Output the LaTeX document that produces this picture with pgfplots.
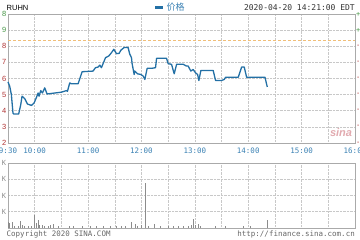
\documentclass[border=0pt]{standalone}
\usepackage{pgfplots}
\pgfplotsset{compat=1.18}
\usepackage{fontspec}
\setmainfont{Liberation Sans}
\newfontfamily\mono{DejaVu Sans Mono}
\newfontfamily\cjk{Noto Sans CJK SC}
\definecolor{lineblue}{RGB}{35,112,165}
\definecolor{tblue}{RGB}{60,130,180}
\definecolor{gr}{RGB}{70,150,70}
\definecolor{rd}{RGB}{175,50,50}
\definecolor{gridc}{RGB}{200,200,200}
\definecolor{framec}{RGB}{170,170,170}
\definecolor{prevc}{RGB}{240,190,120}
\definecolor{volc}{RGB}{140,140,140}
\definecolor{sinac}{RGB}{225,170,175}
\begin{document}
\begin{tikzpicture}[x=1pt,y=1pt]
\useasboundingbox (0,0) rectangle (360,240);
% price panel
\begin{axis}[
  at={(8pt,97pt)}, anchor=south west,
  scale only axis, width=347pt, height=129pt,
  xmin=0, xmax=390, ymin=0, ymax=8,
  xtick={0,30,...,390},
  xticklabels={9:30,10:00,,11:00,,12:00,,13:00,,14:00,,15:00,,16:00},
  xticklabel style={font=\mono\fontsize{7.5}{8}\selectfont, text=tblue},
  ytick={0,...,8},
  yticklabels={\textcolor{rd}{2},\textcolor{rd}{3},\textcolor{rd}{4},\textcolor{rd}{5},\textcolor{rd}{6},\textcolor{rd}{7},\textcolor{rd}{8},\textcolor{gr}{9},\textcolor{gr}{8}},
  yticklabel style={font=\fontsize{7.5}{8}\selectfont},
  major tick length=0pt,
  x tick label style={yshift=-1.5pt},
  y tick label style={xshift=1.8pt},
  grid=major,
  grid style={densely dotted, gridc, line width=0.5pt},
  axis line style={framec, line width=0.5pt},
  clip=false,
]
\addplot[prevc, densely dashed, line width=0.9pt, forget plot] coordinates {(0,6.375) (390,6.375)};
\addplot[lineblue, line width=1.3pt, line join=round] coordinates {
(0,3.79)(1.9,3.52)(3.8,3.0)(5.6,1.85)(6.5,1.8)(12,1.8)(14.3,2.37)(15.8,2.9)(18.8,2.75)
(21.8,2.42)(26.3,2.33)(29.3,2.48)(32,2.83)(33.8,3.1)(34.9,2.9)(36.8,3.25)(38.7,3.1)
(41.3,3.42)(43.9,3.04)(52.5,3.1)(60,3.15)(65.7,3.25)(66.8,3.2)(69.4,3.73)(71.3,3.67)
(78.8,3.67)(83.3,4.42)(95.6,4.46)(98.3,4.67)(101.3,4.71)(103.2,4.83)(105,4.67)
(109.6,5.29)(113.3,5.4)(116.3,5.6)(118.9,5.81)(122,5.54)(124.9,5.56)(126.8,5.75)
(130.5,5.92)(135,5.92)(136.9,5.5)(138.8,5.29)(139.5,4.92)(141.8,4.25)(142.5,4.46)
(145.6,4.29)(149.3,4.25)(151.9,4.15)(153.8,3.94)(156.4,4.63)(161.3,4.63)(165.8,4.67)
(167,5.25)(178.2,5.25)(180,4.92)(183.8,4.88)(186.8,4.29)(189.5,4.88)(196.9,4.88)
(200.7,4.77)(202.5,4.77)(205.5,4.46)(208.1,4.56)(210.8,4.35)(213.1,4.25)(214.5,3.875)
(216.8,4.5)(230.6,4.5)(233.3,3.875)(240,3.875)(243,3.94)(244.6,4.08)(258.8,4.08)
(262.6,4.71)(265.5,4.71)(268.2,4.08)(288.8,4.08)(291.4,3.48)};
\pgfplotsinvokeforeach{0,...,6}{\node[anchor=west, text=rd, font=\mono\fontsize{7}{8}\selectfont, inner sep=0pt, xshift=1pt] at (axis cs:390,#1) {-};}
\pgfplotsinvokeforeach{7,8}{\node[anchor=west, text=gr, font=\mono\fontsize{7}{8}\selectfont, inner sep=0pt, xshift=1pt] at (axis cs:390,#1) {+};}
\node[anchor=south east, inner sep=1pt, font=\bfseries\itshape\fontsize{11}{11}\selectfont, text=sinac] at (axis cs:388,0.3) {sina};
\end{axis}
% volume panel
\begin{axis}[
  at={(8pt,12pt)}, anchor=south west,
  scale only axis, width=347pt, height=65pt,
  xmin=0, xmax=390, ymin=0, ymax=4,
  xtick={0,30,...,390}, xticklabels={},
  ytick={1,2,3,4}, yticklabels={K,K,K,K},
  yticklabel style={font=\mono\fontsize{7}{8}\selectfont, text=volc, xshift=1.5pt},
  major tick length=0pt,
  grid=major,
  grid style={densely dotted, gridc, line width=0.5pt},
  axis line style={framec, line width=0.5pt},
]
\addplot[ycomb, volc, line width=0.5pt] coordinates {
(0.5,0.35)(1.1,0.3)(4.5,0.35)(7.5,0.15)(11.3,0.1)(13.9,0.45)(16.2,0.2)(18.8,0.15)
(22.5,0.1)(26.3,0.15)(29.7,0.8)(31.9,0.3)(33.8,0.5)(35.6,0.2)(38.7,0.2)(41.3,0.15)
(45,0.1)(47.7,0.2)(50.6,0.25)(56.3,0.1)(69.4,0.1)(73.1,0.1)(83.7,0.15)(91.9,0.1)
(99.4,0.1)(106.9,0.1)(114.4,0.1)(121.9,0.15)(127.5,0.15)(131.3,0.1)(138.8,0.35)
(142.5,0.25)(145.1,0.15)(150,0.2)(154.1,2.76)(157.5,0.15)(164.3,0.25)(170.6,0.1)
(180,0.1)(185.6,0.1)(191.3,0.1)(196.9,0.1)(202.5,0.15)(205.5,0.2)(208.1,0.57)
(210.8,0.2)(213.8,0.25)(215.6,0.15)(232.5,0.1)(243.8,0.1)(264.4,0.1)(271.9,0.1)(291.4,0.47)};
\end{axis}
% header texts
\node[anchor=west, inner sep=0pt, font=\fontsize{7.5}{8}\selectfont] at (6.5,232) {RUHN};
\fill[lineblue] (155,231) rectangle (163,233.5);
\node[anchor=west, inner sep=0pt, text=tblue, font=\cjk\fontsize{9}{9}\selectfont] at (166.5,232.5) {价格};
\node[anchor=east, inner sep=0pt, font=\mono\fontsize{8}{8}\selectfont, text=black!80] at (355,232) {2020-04-20 14:21:00 EDT};
% footer texts
\node[anchor=west, inner sep=0pt, font=\mono\fontsize{7.5}{8}\selectfont, text=black!60] at (6.5,5.5) {Copyright 2020 SINA.COM};
\node[anchor=east, inner sep=0pt, font=\mono\fontsize{7.5}{8}\selectfont, text=black!60] at (355,5.5) {http://finance.sina.com.cn};
\end{tikzpicture}
\end{document}
